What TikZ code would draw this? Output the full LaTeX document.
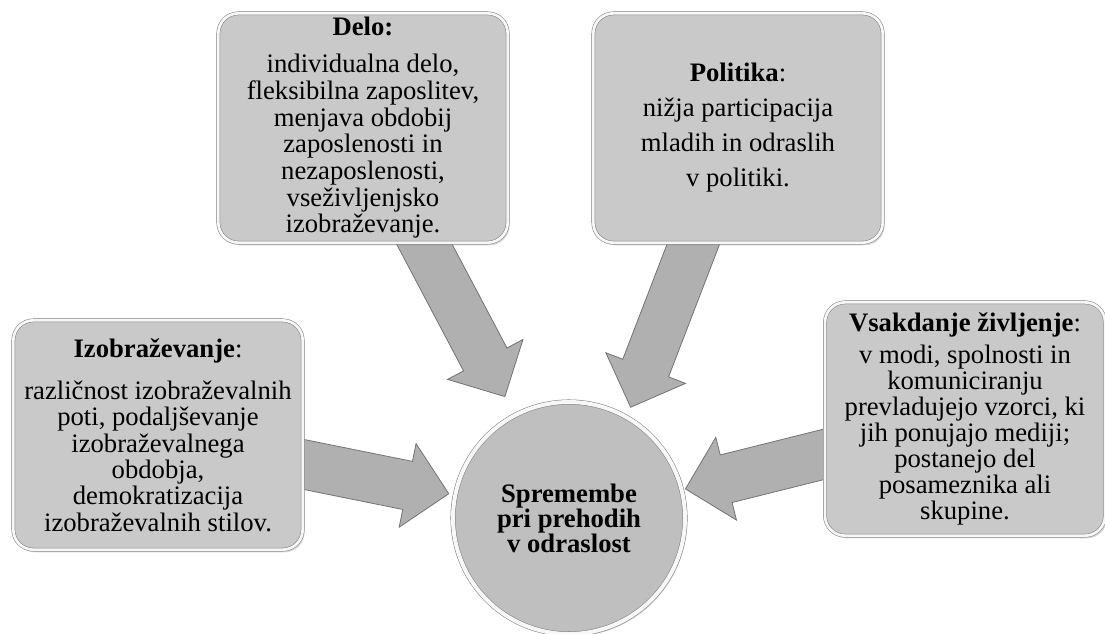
\documentclass[tikz,border=0pt]{standalone}
\usepackage{fontspec}
\setmainfont{Liberation Serif}
\usepackage{tikz}
\usetikzlibrary{calc,backgrounds,shadows}
\usepackage{xcolor}
\colorlet{myface}{black!21}
\colorlet{myedge}{black!50}
\colorlet{myrim}{black!3}
\colorlet{myarrow}{black!31}
\tikzstyle{panel}=[rounded corners=15pt,draw=myedge,double=myrim,double distance=2pt,fill=myface,minimum width=217pt,minimum height=172pt,align=center,inner sep=3pt,drop shadow={opacity=.3,shadow xshift=1.5pt,shadow yshift=-2pt}]
\tikzstyle{hub}=[circle,draw=myedge,double=myrim,double distance=3pt,fill=myface!95!black,minimum size=174pt,align=center,drop shadow={opacity=.3,shadow xshift=1.5pt,shadow yshift=-2pt},font=\bfseries\fontsize{20pt}{18.75pt}\selectfont]
\tikzstyle{arrowbody}=[fill=myarrow,draw=black!55,line width=.6pt,line join=miter]
% block arrow: from node #1 towards #2, tip #3 away from #2
\newcommand{\blockarrow}[3]{%
  \coordinate (tip) at ($(#2)!#3!(#1)$);
  \draw[arrowbody] (tip)
    -- ($(tip)!31.5pt!(#1)!32pt!90:(#1)$)
    -- ($(tip)!31.5pt!(#1)!18.4pt!90:(#1)$)
    -- ($(#1)!18.4pt!-90:(tip)$)
    -- ($(#1)!18.4pt!90:(tip)$)
    -- ($(tip)!31.5pt!(#1)!18.4pt!-90:(#1)$)
    -- ($(tip)!31.5pt!(#1)!32pt!-90:(#1)$)
    -- cycle;}

\begin{document}
\begin{tikzpicture}[x=0.75pt,y=-0.75pt]
  \useasboundingbox (0,0) rectangle (1105,633);

  % the four areas
  \node[panel,font=\fontsize{20pt}{20pt}\selectfont] (delo) at (363,128)
    {\textbf{Delo:}\\[7.75pt]individualna delo,\\fleksibilna zaposlitev,\\menjava obdobij\\zaposlenosti in\\nezaposlenosti,\\vseživljenjsko\\izobraževanje.};
  \node[panel,font=\fontsize{20pt}{26.25pt}\selectfont] (politika) at (738,128)
    {\textbf{Politika}:\\nižja participacija\\mladih in odraslih\\v politiki.};
  \node[panel,font=\fontsize{20pt}{19.8pt}\selectfont] (izob) at (158,435)
    {\textbf{Izobraževanje}:\\[11.7pt]različnost izobraževalnih\\poti, podaljševanje\\izobraževalnega\\obdobja,\\demokratizacija\\izobraževalnih stilov.};
  \node[panel,minimum width=210pt,minimum height=175pt,font=\fontsize{20pt}{19.5pt}\selectfont] (vsak) at (965,419)
    {\textbf{Vsakdanje življenje}:\\[4.5pt]v modi, spolnosti in\\komuniciranju\\prevladujejo vzorci, ki\\jih ponujajo mediji;\\postanejo del\\posameznika ali\\skupine.};

  % centre
  \node[hub] (centre) at (569,518) {Spremembe\\pri prehodih\\v odraslost};
  \coordinate (aim) at ($(centre.center)+(19,0)$);

  \begin{scope}[on background layer]
    \foreach \b/\t/\d in {delo/centre/103pt,politika/aim/89pt,izob/centre/92pt,vsak/centre/90pt}{ \blockarrow{\b}{\t}{\d} }
  \end{scope}
\end{tikzpicture}
\end{document}
